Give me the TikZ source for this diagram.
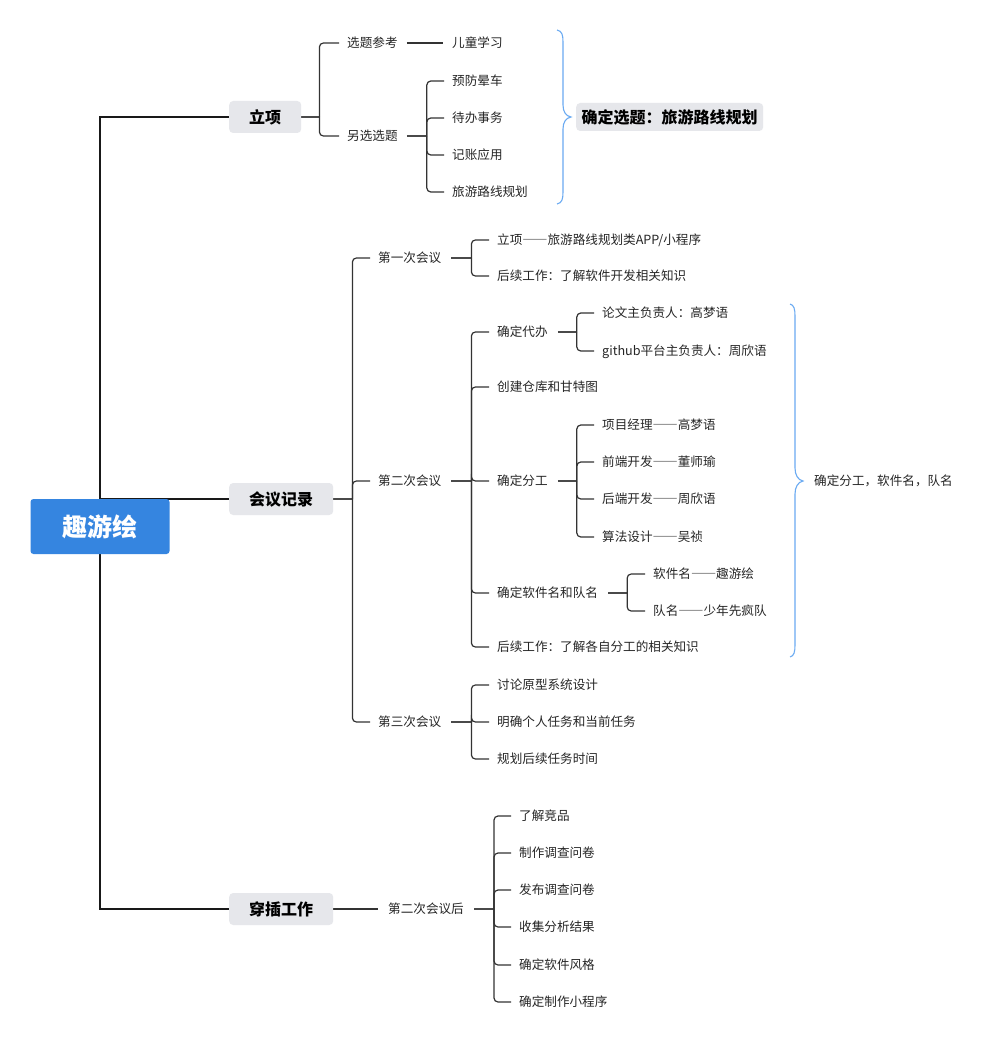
\documentclass[tikz,border=0pt]{standalone}
\usepackage{fontspec}
\setmainfont{Noto Sans CJK SC}
\definecolor{rootblue}{HTML}{3585E0}
\definecolor{boxgray}{HTML}{E6E7EB}
\definecolor{linec}{HTML}{333333}
\definecolor{stubc}{HTML}{4A4A4A}
\definecolor{bracec}{HTML}{6AAAF2}
\definecolor{txtc}{HTML}{262626}
\pgfdeclarelayer{bg}\pgfsetlayers{bg,main}
\newcommand\mmkids[4]{%
  \draw[stub] ([xshift=#2]#1.east) -- ([xshift=#3]#1.east);
  \foreach \k in {#4}{\draw[kid] ([xshift=#3]#1.east) |- ([xshift=-8]\k.west);}%
}
\newcommand\mmdash{{\addfontfeatures{RawFeature=+fwid}——}}
\begin{document}
\begin{tikzpicture}[x=1pt,y=-1pt,
  t/.style={anchor=west,inner sep=0pt,text height=11pt,text depth=1.6pt,
    font=\fontsize{12.6}{14}\selectfont,text=txtc},
  lvl/.style={anchor=west,fill=boxgray,rounded corners=4pt,inner xsep=20pt,inner ysep=0pt,
    minimum height=32pt,font=\fontsize{16}{18}\selectfont\bfseries,text=black},
  sel/.style={anchor=west,fill=boxgray,rounded corners=4pt,inner xsep=5.5pt,inner ysep=0pt,
    minimum height=28pt,font=\fontsize{16}{18}\selectfont\bfseries,text=black},
  rootbox/.style={fill=rootblue,rounded corners=3pt,minimum width=139pt,minimum height=55pt,
    inner sep=0pt,font=\fontsize{25}{28}\selectfont\bfseries,text=white},
  spine/.style={draw=black!90,line width=2pt},
  stub/.style={draw=stubc,line width=1.8pt},
  kid/.style={draw=linec,line width=1.2pt,rounded corners=4pt},
  single/.style={draw=linec,line width=1.2pt},
  brace/.style={draw=bracec,line width=1.1pt}
]
\useasboundingbox (0,0) rectangle (993,1054);

% root and level 1
\node[rootbox] (root) at (100,526.5) {趣游绘};
\node[lvl] (lx) at (229,117) {立项};
\node[lvl] (hy) at (229,499) {会议记录};
\node[lvl] (cc) at (229,909) {穿插工作};

% 立项
\node[t] (xt) at (347,43) {选题参考};
\node[t] (lx2) at (347,136) {另选选题};
\node[t] (et) at (452,43) {儿童学习};
\node[t] (a1) at (452,81) {预防晕车};
\node[t] (a2) at (452,118) {待办事务};
\node[t] (a3) at (452,155) {记账应用};
\node[t] (a4) at (452,192) {旅游路线规划};
\node[sel] (sel) at (576,117) {确定选题：旅游路线规划};

% 会议记录
\node[t] (m1) at (378,258) {第一次会议};
\node[t] (m2) at (378,481) {第二次会议};
\node[t] (m3) at (378,722) {第三次会议};
\node[t] (b1) at (497,240) {立项\mmdash 旅游路线规划类APP/小程序};
\node[t] (b2) at (497,276) {后续工作：了解软件开发相关知识};
\node[t] (d1) at (497,332) {确定代办};
\node[t] (d2) at (497,387) {创建仓库和甘特图};
\node[t] (d3) at (497,481) {确定分工};
\node[t] (d4) at (497,593) {确定软件名和队名};
\node[t] (d5) at (497,647) {后续工作：了解各自分工的相关知识};
\node[t] (e1) at (602,313) {论文主负责人：高梦语};
\node[t] (e2) at (602,351) {github平台主负责人：周欣语};
\node[t] (f1) at (602,425) {项目经理\mmdash 高梦语};
\node[t] (f2) at (602,462) {前端开发\mmdash 董师瑜};
\node[t] (f3) at (602,499) {后端开发\mmdash 周欣语};
\node[t] (f4) at (602,537) {算法设计\mmdash 吴祯};
\node[t] (g1) at (653,574) {软件名\mmdash 趣游绘};
\node[t] (g2) at (653,611) {队名\mmdash 少年先疯队};
\node[t] (sum) at (814,481) {确定分工，软件名，队名};
\node[t] (h1) at (497,685) {讨论原型系统设计};
\node[t] (h2) at (497,722) {明确个人任务和当前任务};
\node[t] (h3) at (497,759) {规划后续任务时间};

% 穿插工作
\node[t] (cs) at (388,909) {第二次会议后};
\node[t] (k1) at (519,816) {了解竞品};
\node[t] (k2) at (519,853) {制作调查问卷};
\node[t] (k3) at (519,890) {发布调查问卷};
\node[t] (k4) at (519,927) {收集分析结果};
\node[t] (k5) at (519,965) {确定软件风格};
\node[t] (k6) at (519,1002) {确定制作小程序};

\begin{pgfonlayer}{bg}
  \fill[white] (0,0) rectangle (993,1054);
  \draw[spine] (lx.west) -| (root.north);
  \draw[spine] (root.south) |- (cc.west);
  \draw[spine] (hy.west) -- (hy.west -| root.center);

  \mmkids{lx}{0}{18}{xt,lx2}
  \draw[single] ([xshift=9]xt.east) -- ([xshift=-9]et.west);
  \mmkids{lx2}{9}{29}{a1,a2,a3,a4}

  \mmkids{hy}{0}{19}{m1,m2,m3}
  \mmkids{m1}{10}{30}{b1,b2}
  \mmkids{m2}{10}{30}{d1,d2,d3,d4,d5}
  \mmkids{d1}{10}{29}{e1,e2}
  \mmkids{d3}{10}{29}{f1,f2,f3,f4}
  \mmkids{d4}{10}{29}{g1,g2}
  \mmkids{m3}{10}{30}{h1,h2,h3}

  \draw[single] (cc.east) -- ([xshift=-10]cs.west);
  \mmkids{cs}{10}{30}{k1,k2,k3,k4,k5,k6}
\end{pgfonlayer}

% braces
\draw[brace] (557,30) .. controls (562,31) and (563,35) .. (563,42) -- (563,105)
  .. controls (563,112) and (566,116) .. (571,117)
  .. controls (566,118) and (563,122) .. (563,129) -- (563,192)
  .. controls (563,199) and (562,203) .. (557,204);
\draw[brace] (790,304) .. controls (794,305) and (795,309) .. (795,316) -- (795,468)
  .. controls (795,475) and (798,480) .. (803,481)
  .. controls (798,482) and (795,487) .. (795,494) -- (795,645)
  .. controls (795,652) and (794,656) .. (790,657);
\end{tikzpicture}
\end{document}
